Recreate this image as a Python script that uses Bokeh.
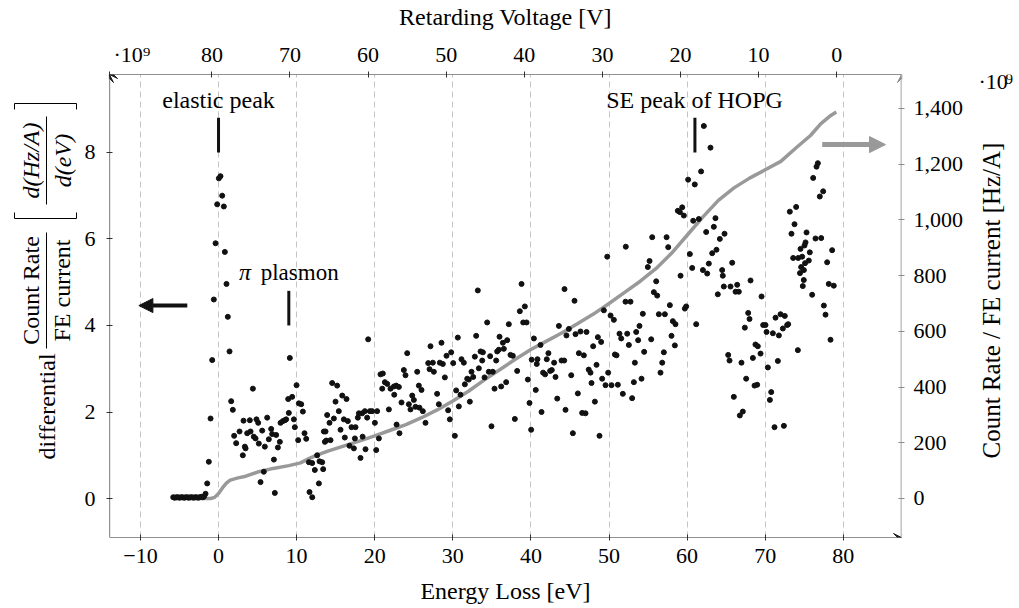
from math import pi
from bokeh.plotting import figure
from bokeh.layouts import row
from bokeh.models import (Range1d, LinearAxis, FixedTicker, NumeralTickFormatter,
                          Label, Arrow, NormalHead, VeeHead, Grid)
from bokeh.core.properties import value
from bokeh.embed import file_html
from bokeh.resources import INLINE

FONT = "Liberation Serif"

# ---------------- data ----------------
# differential spectrum (left axis, x1e9)
flat_E = [-5.8, -5.6, -5.4, -5.2, -5.0, -4.8, -4.6, -4.4, -4.2, -4.0, -3.8, -3.6, -3.4,
          -3.2, -3.0, -2.8, -2.6, -2.4, -2.2, -2.0, -1.85]
flat_Y = [0.03, 0.02, 0.03, 0.03, 0.02, 0.03, 0.03, 0.02, 0.03, 0.03, 0.02, 0.03, 0.03,
          0.02, 0.03, 0.03, 0.02, 0.03, 0.04, 0.03, 0.05]

peak_E = [-1.66, -1.45, -1.24, -1.02, -0.81, -0.6, -0.38, -0.17, 0.04, 0.25, 0.47, 0.68,
          0.81, 1.02, 1.19, 1.41, 1.62, 1.83, 2.0, 2.26, 2.69, 3.11, 3.2, 3.37]
peak_Y = [0.11, 0.35, 0.85, 1.85, 3.2, 4.6, 5.9, 6.8, 7.4, 7.45, 7.0, 6.75,
          5.7, 4.96, 4.2, 3.4, 2.25, 2.05, 1.45, 1.28, 1.55, 1.0, 1.8, 1.2]

low_E = [3.46, 3.67, 4.01, 4.10, 4.40, 4.52, 4.74, 4.86, 5.08, 5.16, 5.38, 5.59, 5.80,
         5.93, 6.23, 6.44, 6.74, 6.87, 7.09, 7.21, 7.38, 7.60, 7.85, 7.94, 8.24, 8.49,
         8.66, 8.92, 9.00, 9.13, 9.43, 9.65, 9.77, 9.99, 10.20, 10.29, 10.59, 10.80,
         11.01, 11.23, 11.57, 11.65, 11.99, 12.0, 12.33, 12.63, 12.85, 12.93, 13.27,
         13.40, 13.49, 13.62]
low_Y = [1.16, 1.51, 1.81, 1.55, 2.54, 1.43, 1.39, 1.83, 1.75, 1.27, 0.38, 1.57, 0.62,
         1.20, 1.87, 1.37, 1.61, 1.49, 0.90, 0.13, 1.47, 1.18, 1.31, 1.75, 1.79, 1.81,
         1.83, 2.30, 1.98, 3.25, 2.35, 1.83, 1.65, 2.62, 1.35, 2.20, 2.18, 2.01,
         1.51, 1.38, 0.84, 0.15, 0.82, 0.03, 0.66, 1.00, 0.35, 0.86, 0.84,
         0.68, 1.55, 1.31]

mid1_E = [13.70, 13.79, 13.91, 14.21, 14.34, 14.55, 14.77, 14.98, 15.19, 15.40, 15.62,
          15.84, 16.05, 16.17, 16.39, 16.56, 16.77, 17.03, 17.33, 17.46, 17.54, 17.84,
          17.97, 18.18, 18.39, 18.45, 18.74, 18.82, 19.03, 19.16, 19.38, 19.67, 20.02,
          20.19, 20.31, 20.53, 20.74, 20.96, 21.04, 21.30, 21.60, 21.81, 22.02, 22.45,
          22.50, 22.75, 22.80, 23.09, 23.17, 23.43, 23.73, 23.94]
mid1_Y = [1.55, 1.34, 1.93, 1.75, 1.35, 2.67, 1.85, 2.24, 2.61, 2.02, 1.59,
          2.38, 1.83, 1.41, 2.30, 1.79, 1.22, 1.65, 1.16, 1.39, 1.65, 1.87,
          1.97, 0.94, 1.97, 1.43, 2.02, 1.14, 1.87, 3.68, 2.02, 2.02, 1.75,
          1.12, 2.02, 1.39, 2.87, 2.54, 2.89, 2.69, 2.65, 2.06, 2.54, 2.59,
          2.40, 2.61, 1.71, 2.58, 1.51, 2.22, 2.97, 2.85]

mid2_E = [24.16, 24.37, 24.58, 24.80, 25.01, 25.22, 25.44, 25.65, 25.73, 25.99, 26.16,
          26.50, 26.85, 27.02, 27.14, 27.44, 27.57, 27.99, 28.21, 28.34, 28.55, 28.72,
          28.98, 29.19, 29.40, 29.62, 29.79, 30.05, 30.26, 30.43, 30.64, 30.77, 30.98,
          31.11, 31.41, 31.54, 31.84, 32.05, 32.18, 32.39, 32.61, 32.82, 32.99, 33.20,
          33.33, 33.55, 33.76, 33.85, 34.06]
mid2_Y = [3.36, 2.18, 2.06, 2.38, 2.28, 2.12, 2.93, 2.61, 2.10, 2.51, 2.02,
          1.75, 3.13, 2.99, 3.52, 3.14, 2.93, 2.42, 2.18, 3.14, 3.60, 3.11,
          2.80, 3.30, 2.04, 1.83, 3.38, 3.13, 1.45, 2.50, 3.72, 2.13, 2.40,
          3.22, 3.14, 2.64, 2.77, 2.75, 2.24, 2.93, 2.81, 3.28, 3.76, 4.81,
          3.01, 3.40, 3.19, 3.38, 2.80]

mid3_E = [34.40, 34.61, 34.78, 34.95, 35.12, 35.34, 35.55, 35.68, 35.89, 35.98, 36.19,
          36.41, 36.53, 36.83, 36.96, 37.17, 37.38, 37.68, 37.94, 38.24, 38.58, 38.80,
          39.01, 39.22, 39.44, 39.61, 39.82, 40.03, 40.10, 40.38, 40.62, 40.75, 40.84,
          41.23, 41.36, 41.56, 41.82, 42.03, 42.24, 42.46, 42.67, 42.97, 43.15, 43.37,
          43.58, 43.92, 44.26, 44.30, 44.43]
mid3_Y = [4.07, 2.93, 3.29, 1.67, 2.93, 2.54, 3.19, 3.40, 3.44, 3.74, 2.59,
          3.60, 3.46, 2.69, 3.66, 4.03, 3.32, 3.30, 1.84, 2.95, 4.33, 4.96,
          4.07, 4.44, 4.07, 2.75, 2.21, 1.59, 3.21, 3.70, 2.51, 3.11, 3.22,
          3.55, 2.00, 2.91, 2.87, 3.22, 3.36, 2.95, 2.97, 3.14, 2.81, 2.31,
          3.99, 3.19, 3.19, 4.84, 2.05]

mid4_E = [44.55, 44.86, 45.16, 45.37, 45.58, 45.71, 46.01, 46.14, 46.35, 46.56, 46.78,
          46.99, 47.12, 47.40, 47.63, 47.76, 47.97, 48.19, 48.40, 48.57, 48.78, 48.99,
          49.12, 49.34, 49.55, 49.77, 49.89, 50.20, 50.32, 50.62, 50.75, 50.96, 51.13,
          51.34, 51.56, 51.77, 52.11, 52.15, 52.33, 52.54, 52.75, 52.96, 53.18, 53.31,
          53.48, 53.73, 53.90, 54.16, 54.33, 54.50]
mid4_Y = [3.77, 3.92, 2.85, 1.51, 4.57, 3.80, 2.43, 3.36, 3.86, 1.98, 3.31,
          1.97, 3.85, 2.98, 2.91, 2.67, 3.52, 2.24, 3.09, 3.73, 1.45, 3.62,
          2.77, 4.35, 2.62, 5.59, 2.91, 4.23, 2.62, 4.13, 3.33, 3.31, 2.63,
          3.81, 3.70, 2.42, 4.55, 5.82, 3.81, 3.55, 4.55, 2.32, 2.69, 3.14,
          3.85, 3.66, 3.99, 2.77, 4.27, 3.39]

hi1_E = [54.97, 55.19, 55.40, 55.53, 55.74, 56.04, 56.17, 56.38, 56.59, 56.81, 57.02,
         57.15, 57.37, 57.58, 57.79, 58.00, 58.17, 58.43, 58.51, 58.81, 59.07, 59.16,
         59.37, 59.58, 59.71, 59.88, 60.13, 60.35, 60.65, 60.78, 60.98, 61.16, 61.50,
         61.79, 62.02, 62.14, 62.44, 62.57, 62.78, 62.99, 63.21, 63.42, 63.63, 63.76,
         63.93, 64.19, 64.49, 64.57, 64.70, 64.79]
hi1_Y = [5.35, 5.49, 3.68, 6.04, 4.77, 5.02, 4.69, 4.26, 2.91, 3.14, 3.38,
         4.26, 6.04, 5.81, 4.47, 3.76, 4.10, 3.54, 4.03, 6.65, 6.62, 5.15,
         6.73, 6.54, 4.39, 4.44, 7.37, 5.65, 5.33, 6.42, 7.26, 4.03, 6.46,
         7.56, 5.28, 8.61, 6.16, 5.20, 5.43, 8.11, 5.67, 6.28, 6.48, 5.75,
         4.72, 6.00, 5.28, 5.15, 4.90, 6.12]

hi2_E = [65.26, 65.43, 65.56, 65.77, 65.98, 66.20, 66.41, 66.62, 66.75, 66.96, 67.13,
         67.39, 67.56, 67.82, 67.99, 68.12, 68.42, 68.63, 68.75, 68.97, 69.05, 69.40,
         69.53, 69.74, 70.04, 70.17, 70.34, 70.60, 70.77, 70.98, 71.19, 71.32, 71.62,
         71.75, 71.96, 72.26, 72.39, 72.51, 72.81, 72.94, 73.15, 73.36, 73.58, 73.75,
         73.96, 74.18, 74.22, 74.60, 74.81, 74.94, 75.03]
hi2_Y = [3.32, 3.19, 4.90, 5.45, 2.35, 4.78, 4.94, 4.78, 1.92, 3.14, 2.01,
         3.95, 2.77, 4.29, 4.15, 5.04, 3.25, 2.61, 3.56, 2.63, 3.52, 3.35,
         4.67, 4.01, 4.01, 3.85, 3.03, 2.28, 2.46, 3.82, 1.65, 4.18, 3.18,
         3.77, 4.26, 3.93, 1.68, 4.22, 4.01, 4.03, 6.63, 6.12, 5.56, 6.34,
         6.74, 3.43, 5.56, 5.35, 4.91, 5.05, 5.85]

hi3_E = [74.45, 74.52, 74.73, 74.95, 75.10, 75.16, 75.29, 75.58, 75.71, 76.01, 76.14,
         76.44, 76.57, 76.74, 76.99, 77.17, 77.42, 77.51, 77.72, 77.93, 78.14, 78.36,
         78.57, 78.78]
hi3_Y = [5.21, 5.77, 5.59, 5.28, 5.44, 5.92, 6.15, 5.50, 5.69, 4.71, 7.41,
         6.01, 7.67, 7.75, 6.98, 6.02, 7.10, 4.46, 4.25, 5.46, 4.96, 3.67,
         5.74, 4.92]

diff_E = flat_E + peak_E + low_E + mid1_E + mid2_E + mid3_E + mid4_E + hi1_E + hi2_E + hi3_E
diff_Y = flat_Y + peak_Y + low_Y + mid1_Y + mid2_Y + mid3_Y + mid4_Y + hi1_Y + hi2_Y + hi3_Y

# integral count rate (right axis, x1e9)
int_E = [-5.8, -1.0, -0.5, 0.0, 0.5, 1.0, 1.5, 2.5, 3.5, 5.0, 7.0, 9.0, 10.5, 11.5,
         12.5, 14.0, 16.0, 18.0, 20.0, 22.0, 24.0, 26.0, 28.0, 30.0, 32.0, 34.0, 36.0,
         38.0, 40.0, 42.0, 44.0, 46.0, 48.0, 50.0, 52.0, 54.0, 56.0, 58.0, 60.0, 62.0,
         64.0, 66.0, 68.0, 70.0, 72.0, 74.0, 75.8, 77.1, 78.4, 79.1]
int_R = [0, 0, 4, 18, 38, 55, 66, 74, 80, 95, 108, 118, 128, 142,
         155, 170, 188, 206, 225, 245, 265, 290, 318, 350, 385, 425, 462,
         500, 535, 565, 595, 628, 662, 700, 740, 780, 825, 880, 945, 1010,
         1070, 1115, 1150, 1180, 1210, 1260, 1303, 1345, 1375, 1387]

E_TICKS = [-10, 0, 10, 20, 30, 40, 50, 60, 70, 80]
V_TICKS = [80, 70, 60, 50, 40, 30, 20, 10, 0]
L_TICKS = [0, 2, 4, 6, 8]
R_TICKS = [0, 200, 400, 600, 800, 1000, 1200, 1400]

# ---------------- layout constants (pixels of the 1019x608 page) ----------------
H = 608
FRAME_TOP, FRAME_BOTTOM = 74, 537
LEFT_W, MAIN_W, RIGHT_W = 80, 888, 51
X_LO, X_HI = -13.96, 87.45
YL_LO, YL_HI = -0.9, 9.8
YR_LO, YR_HI = -140, 1522
V_OFF = 79.15
V_LEFT = V_OFF - X_LO

# ---------------- main plot ----------------
p = figure(width=MAIN_W, height=H, x_range=Range1d(X_LO, X_HI),
           y_range=Range1d(YL_LO, YL_HI), output_backend="svg", toolbar_location=None,
           x_axis_type=None, y_axis_type=None,
           min_border_left=29, min_border_right=67, min_border_top=FRAME_TOP,
           min_border_bottom=H - FRAME_BOTTOM)
p.outline_line_color = None
p.background_fill_color = "white"
p.border_fill_color = "white"
p.extra_y_ranges = {"right": Range1d(YR_LO, YR_HI)}
p.extra_x_ranges = {"top": Range1d(V_OFF - X_LO, V_OFF - X_HI)}

bottom_ax = LinearAxis(ticker=FixedTicker(ticks=E_TICKS),
                       major_label_overrides={-10: "\u221210"},
                       axis_label="Energy Loss [eV]")
left_ax = LinearAxis(ticker=FixedTicker(ticks=L_TICKS))
scale_tick = V_LEFT - 0.01
top_ax = LinearAxis(x_range_name="top", ticker=FixedTicker(ticks=[scale_tick] + V_TICKS),
                    major_label_overrides={scale_tick: "\u00a0" * 6 + "\u00b710\u2079"},
                    axis_label="Retarding Voltage [V]")
right_ax = LinearAxis(y_range_name="right", ticker=FixedTicker(ticks=R_TICKS),
                      formatter=NumeralTickFormatter(format="0,0"))
p.add_layout(bottom_ax, "below")
p.add_layout(left_ax, "left")
p.add_layout(top_ax, "above")
p.add_layout(right_ax, "right")


def style_axis(ax, color, standoff, label_standoff=8):
    ax.axis_line_color = None
    ax.major_tick_in = 3
    ax.major_tick_out = 3
    ax.major_tick_line_color = color
    ax.minor_tick_line_color = None
    ax.major_label_text_font = FONT
    ax.major_label_text_font_size = "22px"
    ax.major_label_text_color = "black"
    ax.major_label_standoff = standoff
    ax.axis_label_text_font = FONT
    ax.axis_label_text_font_size = "24px"
    ax.axis_label_text_font_style = "normal"
    ax.axis_label_text_color = "black"
    ax.axis_label_standoff = label_standoff


style_axis(bottom_ax, "#333333", 8, 12)
style_axis(top_ax, "#333333", 5, 9)
style_axis(left_ax, "#333333", 11)
style_axis(right_ax, "#8c8c8c", 9)

p.add_layout(Grid(dimension=0, ticker=FixedTicker(ticks=E_TICKS),
                  grid_line_color="#c4c4c4", grid_line_dash="6 4", grid_line_width=1))

# integral curve
p.line(int_E, int_R, y_range_name="right", line_color="#999999", line_width=3.5)
# differential points
p.scatter(diff_E, diff_Y, size=5, marker="circle", fill_color="#111111",
          line_color="#111111")

# marker bars
p.segment(x0=[0.0, 9.0, 61.0], y0=[8.0, 4.0, 8.0], x1=[0.0, 9.0, 61.0],
          y1=[8.8, 4.8, 8.8], line_color="#111111", line_width=3)

# axis lines with arrow heads
AX = "#222222"
GR = "#8c8c8c"
p.add_layout(Arrow(x_start=X_LO, y_start=YL_LO, x_end=X_HI, y_end=YL_LO, line_color=AX,
                   line_width=1.2, end=VeeHead(size=8, line_color=AX, fill_color=AX)))
p.add_layout(Arrow(x_start=X_LO, y_start=YL_LO, x_end=X_LO, y_end=YL_HI, line_color=AX,
                   line_width=1.2, end=VeeHead(size=8, line_color=AX, fill_color=AX)))
p.add_layout(Arrow(x_start=X_HI, y_start=YL_HI, x_end=X_LO, y_end=YL_HI, line_color=AX,
                   line_width=1.2, end=VeeHead(size=8, line_color=AX, fill_color=AX)))
p.add_layout(Arrow(x_start=X_HI, y_start=YL_LO, x_end=X_HI, y_end=YL_HI, line_color=GR,
                   line_width=1.6, end=VeeHead(size=8, line_color=GR, fill_color=GR)))

# direction arrows
p.add_layout(Arrow(x_start=-4.0, y_start=4.46, x_end=-10.2, y_end=4.46, line_color="#111111",
                   line_width=4, end=NormalHead(size=14, line_color="#111111",
                                                fill_color="#111111")))
p.add_layout(Arrow(x_start=77.3, y_start=8.18, x_end=85.4, y_end=8.18, line_color="#999999",
                   line_width=5, end=NormalHead(size=16, line_color="#999999",
                                                fill_color="#999999")))


def dlabel(x, y, text, align="center", style="normal", size="24px"):
    p.add_layout(Label(x=x, y=y, text=text, text_font=FONT, text_font_size=size,
                       text_align=align, text_baseline="middle",
                       text_font_style=style, text_color="black"))


dlabel(0.0, 9.2, "elastic peak")
dlabel(60.95, 9.2, "SE peak of HOPG")
dlabel(3.4, 5.23, "\u03c0", style="italic")
dlabel(5.4, 5.23, "plasmon", align="left", size="23px")


# ---------------- side strips (frames are aligned with the main frame) ----------------
def strip(width, x0):
    s = figure(width=width, height=H, x_range=Range1d(x0, x0 + width),
               y_range=Range1d(H - FRAME_BOTTOM, H - FRAME_TOP), output_backend="svg",
               toolbar_location=None, x_axis_type=None, y_axis_type=None, min_border=0)
    s.outline_line_color = None
    s.grid.visible = False
    return s


lp = strip(LEFT_W, 0)
lbl_x = [46, 30, 61, 30, 62]
lbl_y = [406, 290, 290, 160, 160]
lbl_t = ["differential", "Count Rate", "FE current", "d(Hz/A)", "d(eV)"]
lp.text(x=lbl_x[:3], y=[H - v for v in lbl_y[:3]], text=lbl_t[:3], angle=pi / 2,
        text_font=value(FONT), text_font_size=value("24px"), text_align="center",
        text_baseline="middle", text_color="black")
lp.text(x=lbl_x[3:], y=[H - v for v in lbl_y[3:]], text=lbl_t[3:], angle=pi / 2,
        text_font=value(FONT), text_font_size=value("24px"), text_font_style="italic",
        text_align="center", text_baseline="middle", text_color="black")

seg_x0 = [46, 46, 14, 14, 76, 14, 14, 76]
seg_y0 = [232, 116, 218, 218, 218, 103, 103, 103]
seg_x1 = [46, 46, 76, 14, 76, 76, 14, 76]
seg_y1 = [348, 204, 218, 212, 212, 103, 109, 109]
lp.segment(x0=seg_x0, y0=[H - v for v in seg_y0], x1=seg_x1, y1=[H - v for v in seg_y1],
           line_color="black", line_width=1)

rp = strip(RIGHT_W, 968)
rp.text(x=[991], y=[H - 300], text=["Count Rate / FE current [Hz/A]"], angle=pi / 2,
        text_font=value(FONT), text_font_size=value("25px"), text_align="center",
        text_baseline="middle", text_color="black")
rp.text(x=[978], y=[H - 81], text=["\u00b710"], text_font=value(FONT),
        text_font_size=value("22px"), text_align="left", text_baseline="middle",
        text_color="black")
rp.text(x=[1005], y=[H - 78], text=["9"], text_font=value(FONT),
        text_font_size=value("15px"), text_align="left", text_baseline="middle",
        text_color="black")

layout = row(lp, p, rp)
open("out.html", "w").write(file_html(layout, INLINE))
